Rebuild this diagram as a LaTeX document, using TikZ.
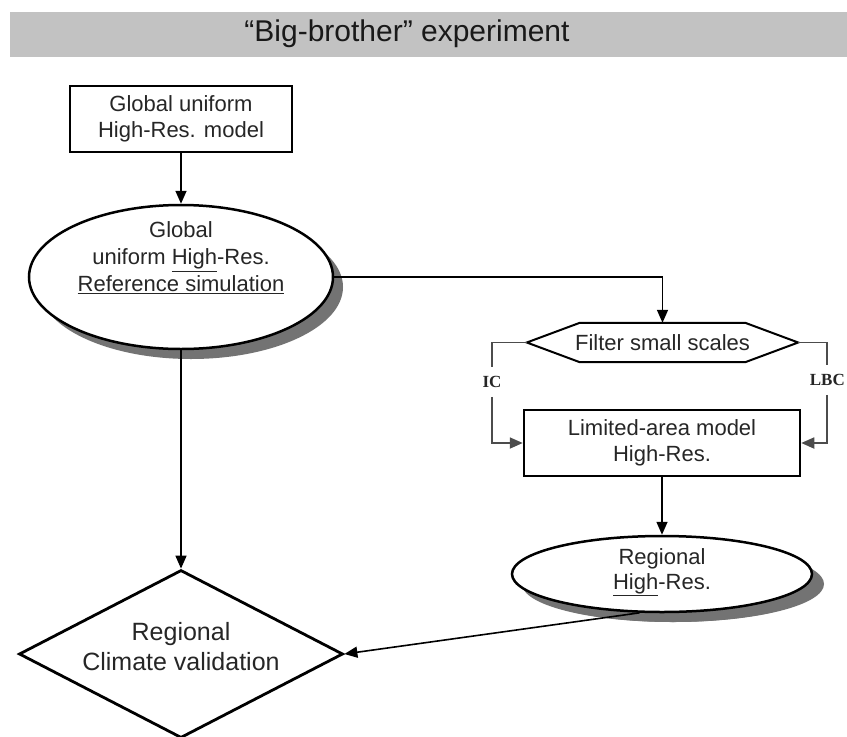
\documentclass[tikz,border=0pt]{standalone}
\usepackage{fontspec}
\setmainfont{Liberation Sans}
\newfontfamily\lserif{Liberation Serif}
\usetikzlibrary{arrows.meta,shapes.geometric,shadows,calc}

\begin{document}
\begin{tikzpicture}[x=1pt,y=-1pt,
  txt/.style={font=\fontsize{22}{26}\selectfont, text=black!85, align=center, inner sep=0pt},
  boxnode/.style={draw, line width=2.5pt, rectangle, inner sep=0pt, fill=white},
  ell/.style={draw, line width=2.5pt, ellipse, fill=white, inner sep=0pt,
    drop shadow={shadow xshift=10pt, shadow yshift=-10pt, fill=black!55, opacity=1}},
  conn/.style={line width=1.6pt, -{Triangle[length=13pt,width=11pt]}},
  sideconn/.style={line width=1.8pt, draw=black!70, -{Triangle[length=13pt,width=11pt]}},
  sideline/.style={line width=1.8pt, draw=black!70},
  lab/.style={font=\lserif\bfseries\fontsize{17}{20}\selectfont, inner xsep=1pt, inner ysep=9pt, text=black!85}
]
\useasboundingbox (0,0) rectangle (847,737);
\clip (0,0) rectangle (847,737);
\fill[white] (0,0) rectangle (847,737);

% title bar
\fill[black!24] (10,12) rectangle (847,57);
\node[font=\fontsize{30}{34}\selectfont, text=black!90, inner sep=0pt] (title) at (407,34) {“Big-brother” experiment};

% nodes
\node[boxnode, minimum width=222pt, minimum height=66pt] (b1) at (181,119) {};
\node[txt] (b1t) at (181,119) {Global uniform\\High-Res. model};

\node[ell, minimum width=304pt, minimum height=144pt] (e1) at (181,277) {};
\node[txt, font=\fontsize{22}{27}\selectfont] (e1t) at (181,258) {Global\\uniform \underline{High}-Res.\\\underline{Reference simulation}};

\node[minimum width=271pt, minimum height=39pt, inner sep=0pt] (f) at (662.5,342.5) {};
\draw[line width=2pt, fill=white] (f.west) -- ($(f.north west)+(53,0)$) -- ($(f.north east)+(-53,0)$)
  -- (f.east) -- ($(f.south east)+(-53,0)$) -- ($(f.south west)+(53,0)$) -- cycle;
\node[txt] (ft) at (662.5,342.5) {Filter small scales};

\node[boxnode, minimum width=276pt, minimum height=66pt] (b2) at (662,443) {};
\node[txt] (b2t) at (662,443) {Limited-area model\\High-Res.};

\node[ell, drop shadow={shadow xshift=12pt, shadow yshift=-10pt, fill=black!55, opacity=1},
  minimum width=300pt, minimum height=76pt] (e2) at (662,574) {};
\node[txt, font=\fontsize{22}{25}\selectfont] (e2t) at (662,572) {Regional\\\underline{High}-Res.};

\node[draw, diamond, line width=2.8pt, inner sep=0pt, minimum width=324pt, minimum height=168pt] (d) at (181,654) {};
\node[txt, font=\fontsize{25}{30}\selectfont] (dt) at (181,647) {Regional\\Climate validation};

\node[lab] (ic) at (492,382) {IC};
\node[lab, anchor=east] (lbc) at (846,380) {LBC};

% connectors
\draw[conn] (b1.south) -- (e1.north);
\draw[conn] (e1.east) -| (f.north);
\draw[conn] (e1.south) -- (d.north);
\draw[conn] (b2.south) -- (e2.north);
\draw[conn] (e2.240) -- (d.east);
\draw[sideline] (f.west) -| (ic.north);
\draw[sideconn] (ic.south) |- (b2.west);
\draw[sideline] (f.east) -| (lbc.north);
\draw[sideconn] (lbc.south) |- (b2.east);
\end{tikzpicture}
\end{document}
